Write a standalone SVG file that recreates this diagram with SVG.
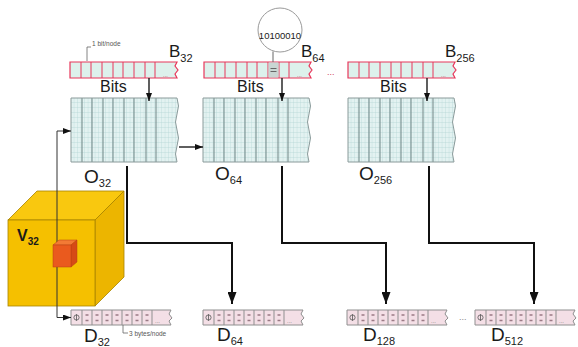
<svg xmlns="http://www.w3.org/2000/svg" width="578" height="347" viewBox="0 0 578 347">
<style>
text{font-family:"Liberation Sans",Arial,sans-serif;fill:#1a1a1a}
.lb{font-size:17px}
.lo{font-size:19px}
.bits{font-size:16px}
.sub{font-size:11px}
.tiny{font-size:6.5px;fill:#555}
.conn{fill:none;stroke:#111;stroke-width:2}
.sm{fill:none;stroke:#1a1a1a;stroke-width:1.4}
.thin{fill:none;stroke:#333;stroke-width:1}
.brk{fill:none;stroke:#666;stroke-width:0.8}
</style>
<defs>
<marker id="ah" markerWidth="12" markerHeight="9" refX="12" refY="4.5" orient="auto" markerUnits="userSpaceOnUse"><path d="M0,0L12,4.5L0,9Z" fill="#111"/></marker>
<marker id="as" markerWidth="8" markerHeight="6" refX="8" refY="3" orient="auto" markerUnits="userSpaceOnUse"><path d="M0,0L8,3L0,6Z" fill="#111"/></marker>
<pattern id="fine" width="3.5" height="5" patternUnits="userSpaceOnUse">
<rect width="3.5" height="5" fill="#e3f2f1"/>
<path d="M3.5,0V5M0,5H3.5" stroke="#a9d0cf" stroke-width="0.6"/>
</pattern>
<g id="grid">
<path d="M0,0H106Q109,8 106,16Q103,24 106,32Q109,40 106,48Q103,56 106,64H0Z" fill="url(#fine)"/>
<path d="M11,0V64M21,0V64M32,0V64M42,0V64M53,0V64M63,0V64M75,0V64M85,0V64" stroke="#6f8585" stroke-width="1"/>
<path d="M106,0H0V64H106M106,0Q109,8 106,16Q103,24 106,32Q109,40 106,48Q103,56 106,64" fill="none" stroke="#8a9a9a" stroke-width="1"/>
</g>
<g id="barr">
<path d="M0,0H107L105,4L108,8L105,12L107,16H0Z" fill="#ddf1ec" stroke="#e8365a" stroke-width="1.2"/>
<path d="M11,0V16M21,0V16M32,0V16M43,0V16M53,0V16M64,0V16M75,0V16M85,0V16" stroke="#e8365a" stroke-width="1"/>
<text x="93" y="15" font-size="6" style="fill:#c03050">...</text>
</g>
<g id="darr">
<path d="M0,0H100L98,4L101,8L98,11L100,15H0Z" fill="#f4dfe6" stroke="#8f8f8f" stroke-width="1"/>
<path d="M11,0V15M21,0V15M31,0V15M41,0V15M51,0V15M61,0V15M71,0V15M81,0V15" stroke="#8f8f8f" stroke-width="1"/>
<circle cx="5.5" cy="7.5" r="2.6" fill="none" stroke="#555" stroke-width="0.8"/>
<path d="M5.5,4.2V10.8" stroke="#555" stroke-width="0.8"/>
<path d="M14.5,5h3M14.5,10.5h3M24.5,5h3M24.5,10.5h3M34.5,5h3M34.5,10.5h3M44.5,5h3M44.5,10.5h3M54.5,5h3M54.5,10.5h3M64.5,5h3M64.5,10.5h3M74.5,5h3M74.5,10.5h3" stroke="#9a7a85" stroke-width="1.4"/>
<text x="84" y="13" font-size="6" style="fill:#777">...</text>
</g>
</defs>
<rect width="578" height="347" fill="#ffffff"/>

<g id="V32">
<path d="M8,220L37,191H124L95,220Z" fill="#f9c80f" stroke="#a88400" stroke-width="0.8"/>
<path d="M95,220L124,191V277L95,306Z" fill="#ecb500" stroke="#a88400" stroke-width="0.8"/>
<rect x="8" y="220" width="87" height="86" fill="#f5c000" stroke="#a88400" stroke-width="0.8"/>
<text x="17" y="241" font-size="16" font-weight="bold">V<tspan font-size="10" dy="4">32</tspan></text>
</g>

<g id="B32">
<use href="#barr" x="70" y="62"/>
<path class="brk" d="M87,61V47H91"/>
<text class="tiny" x="92" y="46">1 bit/node</text>
<text class="lb" x="169" y="57">B<tspan class="sub" dy="5">32</tspan></text>
<text class="bits" x="100" y="92">Bits</text>
</g>
<g id="B64">
<use href="#barr" x="204" y="62"/>
<rect x="268.5" y="62.6" width="10" height="14.8" fill="#c9d6d3"/>
<path d="M270.5,68.5h6M270.5,71.5h6" stroke="#666" stroke-width="1"/>
<text class="lb" x="301" y="57">B<tspan class="sub" dy="5">64</tspan></text>
<text class="bits" x="237" y="92">Bits</text>
</g>
<g id="bitvalue">
<circle cx="280" cy="30" r="22" fill="#fff" stroke="#9a9a9a" stroke-width="1"/>
<text x="280" y="39" font-size="9.5" text-anchor="middle">10100010</text>
<path d="M273,51.5V62" stroke="#666" stroke-width="1"/>
</g>
<text x="327" y="75" font-size="9" style="fill:#d04060">...</text>
<g id="B256">
<use href="#barr" x="348" y="62"/>
<text class="lb" x="445" y="57">B<tspan class="sub" dy="5">256</tspan></text>
<text class="bits" x="380" y="92">Bits</text>
</g>

<g id="O32">
<use href="#grid" x="71" y="98"/>
<text class="lo" x="84" y="183">O<tspan class="sub" dy="4">32</tspan></text>
</g>
<g id="O64">
<use href="#grid" x="203" y="98"/>
<text class="lo" x="215" y="180">O<tspan class="sub" dy="4">64</tspan></text>
</g>
<g id="O256">
<use href="#grid" x="348" y="98"/>
<text class="lo" x="359" y="180">O<tspan class="sub" dy="4">256</tspan></text>
</g>

<g id="D32">
<use href="#darr" x="71" y="310"/>
<path class="brk" d="M123,325V333H128"/>
<text class="tiny" x="129" y="336">3 bytes/node</text>
<text class="lo" x="84" y="342">D<tspan class="sub" dy="4">32</tspan></text>
</g>
<g id="D64">
<use href="#darr" x="203" y="310"/>
<text class="lo" x="217" y="341">D<tspan class="sub" dy="4">64</tspan></text>
</g>
<g id="D128">
<use href="#darr" x="347" y="310"/>
<text class="lo" x="363" y="341">D<tspan class="sub" dy="4">128</tspan></text>
</g>
<text x="459" y="320" font-size="9" style="fill:#888">...</text>
<g id="D512">
<use href="#darr" x="475" y="310"/>
<text class="lo" x="491" y="341">D<tspan class="sub" dy="4">512</tspan></text>
</g>

<g id="connectors">
<path class="sm" d="M149,78V101" marker-end="url(#as)"/>
<path class="sm" d="M282,78V101" marker-end="url(#as)"/>
<path class="sm" d="M427,78V101" marker-end="url(#as)"/>
<path class="sm" d="M179,147H203" marker-end="url(#as)"/>
<path class="thin" d="M57,250V131H71" marker-end="url(#as)"/>
<path class="thin" d="M57,250V317.5H71" marker-end="url(#as)"/>
<path class="conn" d="M127,166V243H232V304" marker-end="url(#ah)"/>
<path class="conn" d="M282,166V243H386V304" marker-end="url(#ah)"/>
<path class="conn" d="M429,166V243H534V304" marker-end="url(#ah)"/>
</g>

<g id="voxel">
<path d="M53,245L59,240H77L71,245Z" fill="#f37a35" stroke="#b84010" stroke-width="0.5"/>
<path d="M71,245L77,240V262L71,267Z" fill="#d64a16" stroke="#b84010" stroke-width="0.5"/>
<rect x="53" y="245" width="18" height="22" fill="#ea5a1e" stroke="#b84010" stroke-width="0.5"/>
</g>
</svg>
